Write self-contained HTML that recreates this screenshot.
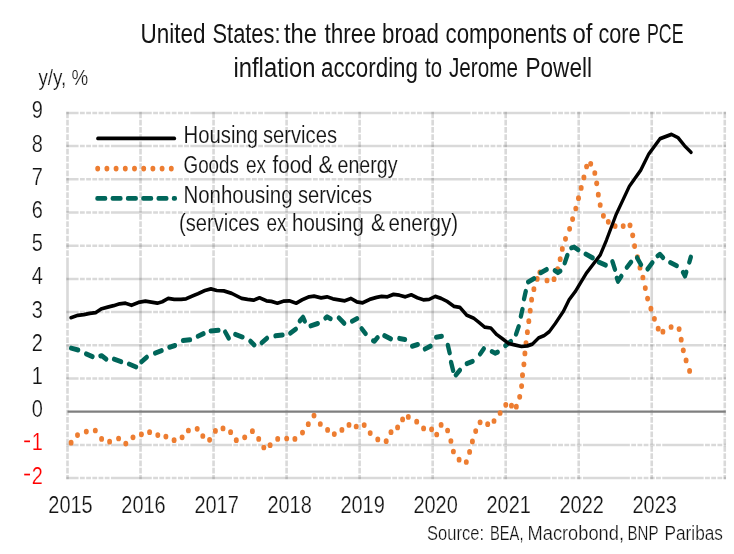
<!DOCTYPE html>
<html><head><meta charset="utf-8"><style>
html,body{margin:0;padding:0;background:#fff;width:734px;height:554px;overflow:hidden}
svg{display:block;font-family:"Liberation Sans",sans-serif}
</style></head><body>
<svg width="734" height="554" viewBox="0 0 734 554">
<text transform="scale(1,1.3)" x="140.5" y="32.92" font-size="21.15" fill="#141414" textLength="65.0" lengthAdjust="spacingAndGlyphs" text-anchor="start">United</text>
<text transform="scale(1,1.3)" x="212.5" y="32.92" font-size="21.15" fill="#141414" textLength="68.0" lengthAdjust="spacingAndGlyphs" text-anchor="start">States:</text>
<text transform="scale(1,1.3)" x="284.0" y="32.92" font-size="21.15" fill="#141414" textLength="33.0" lengthAdjust="spacingAndGlyphs" text-anchor="start">the</text>
<text transform="scale(1,1.3)" x="324.5" y="32.92" font-size="21.15" fill="#141414" textLength="51.5" lengthAdjust="spacingAndGlyphs" text-anchor="start">three</text>
<text transform="scale(1,1.3)" x="382.0" y="32.92" font-size="21.15" fill="#141414" textLength="57.0" lengthAdjust="spacingAndGlyphs" text-anchor="start">broad</text>
<text transform="scale(1,1.3)" x="445.5" y="32.92" font-size="21.15" fill="#141414" textLength="121.5" lengthAdjust="spacingAndGlyphs" text-anchor="start">components</text>
<text transform="scale(1,1.3)" x="572.5" y="32.92" font-size="21.15" fill="#141414" textLength="20.0" lengthAdjust="spacingAndGlyphs" text-anchor="start">of</text>
<text transform="scale(1,1.3)" x="598.5" y="32.92" font-size="21.15" fill="#141414" textLength="42.0" lengthAdjust="spacingAndGlyphs" text-anchor="start">core</text>
<text transform="scale(1,1.3)" x="647.0" y="32.92" font-size="21.15" fill="#141414" textLength="36.5" lengthAdjust="spacingAndGlyphs" text-anchor="start">PCE</text>
<text transform="scale(1,1.3)" x="233.5" y="59.08" font-size="21.15" fill="#141414" textLength="82.0" lengthAdjust="spacingAndGlyphs" text-anchor="start">inflation</text>
<text transform="scale(1,1.3)" x="321.0" y="59.08" font-size="21.15" fill="#141414" textLength="97.0" lengthAdjust="spacingAndGlyphs" text-anchor="start">according</text>
<text transform="scale(1,1.3)" x="425.0" y="59.08" font-size="21.15" fill="#141414" textLength="17.0" lengthAdjust="spacingAndGlyphs" text-anchor="start">to</text>
<text transform="scale(1,1.3)" x="449.0" y="59.08" font-size="21.15" fill="#141414" textLength="69.0" lengthAdjust="spacingAndGlyphs" text-anchor="start">Jerome</text>
<text transform="scale(1,1.3)" x="525.5" y="59.08" font-size="21.15" fill="#141414" textLength="66.5" lengthAdjust="spacingAndGlyphs" text-anchor="start">Powell</text>
<text transform="scale(1,1.15)" x="183.5" y="124.78" font-size="20.87" fill="#141414" stroke="#fff" stroke-width="0.12" textLength="74.5" lengthAdjust="spacingAndGlyphs" text-anchor="start">Housing</text>
<text transform="scale(1,1.15)" x="263.0" y="124.78" font-size="20.87" fill="#141414" stroke="#fff" stroke-width="0.12" textLength="74.0" lengthAdjust="spacingAndGlyphs" text-anchor="start">services</text>
<text transform="scale(1,1.15)" x="183.5" y="150.70" font-size="20.87" fill="#141414" stroke="#fff" stroke-width="0.12" textLength="55.5" lengthAdjust="spacingAndGlyphs" text-anchor="start">Goods</text>
<text transform="scale(1,1.15)" x="246.0" y="150.70" font-size="20.87" fill="#141414" stroke="#fff" stroke-width="0.12" textLength="20.0" lengthAdjust="spacingAndGlyphs" text-anchor="start">ex</text>
<text transform="scale(1,1.15)" x="272.5" y="150.70" font-size="20.87" fill="#141414" stroke="#fff" stroke-width="0.12" textLength="40.0" lengthAdjust="spacingAndGlyphs" text-anchor="start">food</text>
<text transform="scale(1,1.15)" x="318.5" y="150.70" font-size="20.87" fill="#141414" stroke="#fff" stroke-width="0.12" textLength="15.0" lengthAdjust="spacingAndGlyphs" text-anchor="start">&amp;</text>
<text transform="scale(1,1.15)" x="337.5" y="150.70" font-size="20.87" fill="#141414" stroke="#fff" stroke-width="0.12" textLength="60.0" lengthAdjust="spacingAndGlyphs" text-anchor="start">energy</text>
<text transform="scale(1,1.15)" x="183.5" y="176.70" font-size="20.87" fill="#141414" stroke="#fff" stroke-width="0.12" textLength="109.0" lengthAdjust="spacingAndGlyphs" text-anchor="start">Nonhousing</text>
<text transform="scale(1,1.15)" x="298.0" y="176.70" font-size="20.87" fill="#141414" stroke="#fff" stroke-width="0.12" textLength="74.0" lengthAdjust="spacingAndGlyphs" text-anchor="start">services</text>
<text transform="scale(1,1.15)" x="179.0" y="201.04" font-size="20.87" fill="#141414" stroke="#fff" stroke-width="0.12" textLength="80.5" lengthAdjust="spacingAndGlyphs" text-anchor="start">(services</text>
<text transform="scale(1,1.15)" x="266.5" y="201.04" font-size="20.87" fill="#141414" stroke="#fff" stroke-width="0.12" textLength="20.0" lengthAdjust="spacingAndGlyphs" text-anchor="start">ex</text>
<text transform="scale(1,1.15)" x="292.0" y="201.04" font-size="20.87" fill="#141414" stroke="#fff" stroke-width="0.12" textLength="72.0" lengthAdjust="spacingAndGlyphs" text-anchor="start">housing</text>
<text transform="scale(1,1.15)" x="371.0" y="201.04" font-size="20.87" fill="#141414" stroke="#fff" stroke-width="0.12" textLength="14.0" lengthAdjust="spacingAndGlyphs" text-anchor="start">&amp;</text>
<text transform="scale(1,1.15)" x="388.5" y="201.04" font-size="20.87" fill="#141414" stroke="#fff" stroke-width="0.12" textLength="69.5" lengthAdjust="spacingAndGlyphs" text-anchor="start">energy)</text>
<text transform="scale(1,1.2)" x="427.0" y="450.00" font-size="16.25" fill="#141414" stroke="#fff" stroke-width="0.2" textLength="57.0" lengthAdjust="spacingAndGlyphs" text-anchor="start">Source:</text>
<text transform="scale(1,1.2)" x="490.0" y="450.00" font-size="16.25" fill="#141414" stroke="#fff" stroke-width="0.2" textLength="33.5" lengthAdjust="spacingAndGlyphs" text-anchor="start">BEA,</text>
<text transform="scale(1,1.2)" x="527.5" y="450.00" font-size="16.25" fill="#141414" stroke="#fff" stroke-width="0.2" textLength="96.5" lengthAdjust="spacingAndGlyphs" text-anchor="start">Macrobond,</text>
<text transform="scale(1,1.2)" x="627.5" y="450.00" font-size="16.25" fill="#141414" stroke="#fff" stroke-width="0.2" textLength="31.0" lengthAdjust="spacingAndGlyphs" text-anchor="start">BNP</text>
<text transform="scale(1,1.2)" x="664.5" y="450.00" font-size="16.25" fill="#141414" stroke="#fff" stroke-width="0.2" textLength="58.5" lengthAdjust="spacingAndGlyphs" text-anchor="start">Paribas</text>
<text transform="scale(1,1.15)" x="38.4" y="73.91" font-size="18.78" fill="#141414" stroke="#fff" stroke-width="0.2" textLength="49.699999999999996" lengthAdjust="spacing" text-anchor="start">y/y, %</text>
<text transform="scale(1,1.15)" x="42.8" y="420.61" font-size="20.87" fill="#ff0000" stroke="#fff" stroke-width="0.2" textLength="11.1" lengthAdjust="spacingAndGlyphs" text-anchor="end">2</text>
<rect x="24.2" y="473.70" width="5.8" height="1.7" fill="#ff0000"/>
<text transform="scale(1,1.15)" x="42.8" y="391.74" font-size="20.87" fill="#ff0000" stroke="#fff" stroke-width="0.2" textLength="11.1" lengthAdjust="spacingAndGlyphs" text-anchor="end">1</text>
<rect x="24.2" y="440.50" width="5.8" height="1.7" fill="#ff0000"/>
<text transform="scale(1,1.15)" x="42.8" y="362.87" font-size="20.87" fill="#141414" stroke="#fff" stroke-width="0.2" textLength="11.1" lengthAdjust="spacingAndGlyphs" text-anchor="end">0</text>
<text transform="scale(1,1.15)" x="42.8" y="334.00" font-size="20.87" fill="#141414" stroke="#fff" stroke-width="0.2" textLength="11.1" lengthAdjust="spacingAndGlyphs" text-anchor="end">1</text>
<text transform="scale(1,1.15)" x="42.8" y="305.13" font-size="20.87" fill="#141414" stroke="#fff" stroke-width="0.2" textLength="11.1" lengthAdjust="spacingAndGlyphs" text-anchor="end">2</text>
<text transform="scale(1,1.15)" x="42.8" y="276.26" font-size="20.87" fill="#141414" stroke="#fff" stroke-width="0.2" textLength="11.1" lengthAdjust="spacingAndGlyphs" text-anchor="end">3</text>
<text transform="scale(1,1.15)" x="42.8" y="247.39" font-size="20.87" fill="#141414" stroke="#fff" stroke-width="0.2" textLength="11.1" lengthAdjust="spacingAndGlyphs" text-anchor="end">4</text>
<text transform="scale(1,1.15)" x="42.8" y="218.52" font-size="20.87" fill="#141414" stroke="#fff" stroke-width="0.2" textLength="11.1" lengthAdjust="spacingAndGlyphs" text-anchor="end">5</text>
<text transform="scale(1,1.15)" x="42.8" y="189.65" font-size="20.87" fill="#141414" stroke="#fff" stroke-width="0.2" textLength="11.1" lengthAdjust="spacingAndGlyphs" text-anchor="end">6</text>
<text transform="scale(1,1.15)" x="42.8" y="160.78" font-size="20.87" fill="#141414" stroke="#fff" stroke-width="0.2" textLength="11.1" lengthAdjust="spacingAndGlyphs" text-anchor="end">7</text>
<text transform="scale(1,1.15)" x="42.8" y="131.91" font-size="20.87" fill="#141414" stroke="#fff" stroke-width="0.2" textLength="11.1" lengthAdjust="spacingAndGlyphs" text-anchor="end">8</text>
<text transform="scale(1,1.15)" x="42.8" y="103.04" font-size="20.87" fill="#141414" stroke="#fff" stroke-width="0.2" textLength="11.1" lengthAdjust="spacingAndGlyphs" text-anchor="end">9</text>
<text transform="scale(1,1.15)" x="48.3" y="446.52" font-size="20.87" fill="#141414" stroke="#fff" stroke-width="0.2" textLength="44.4" lengthAdjust="spacingAndGlyphs" text-anchor="start">2015</text>
<text transform="scale(1,1.15)" x="121.3" y="446.52" font-size="20.87" fill="#141414" stroke="#fff" stroke-width="0.2" textLength="44.4" lengthAdjust="spacingAndGlyphs" text-anchor="start">2016</text>
<text transform="scale(1,1.15)" x="194.4" y="446.52" font-size="20.87" fill="#141414" stroke="#fff" stroke-width="0.2" textLength="44.4" lengthAdjust="spacingAndGlyphs" text-anchor="start">2017</text>
<text transform="scale(1,1.15)" x="267.4" y="446.52" font-size="20.87" fill="#141414" stroke="#fff" stroke-width="0.2" textLength="44.4" lengthAdjust="spacingAndGlyphs" text-anchor="start">2018</text>
<text transform="scale(1,1.15)" x="340.4" y="446.52" font-size="20.87" fill="#141414" stroke="#fff" stroke-width="0.2" textLength="44.4" lengthAdjust="spacingAndGlyphs" text-anchor="start">2019</text>
<text transform="scale(1,1.15)" x="413.4" y="446.52" font-size="20.87" fill="#141414" stroke="#fff" stroke-width="0.2" textLength="44.4" lengthAdjust="spacingAndGlyphs" text-anchor="start">2020</text>
<text transform="scale(1,1.15)" x="486.5" y="446.52" font-size="20.87" fill="#141414" stroke="#fff" stroke-width="0.2" textLength="44.4" lengthAdjust="spacingAndGlyphs" text-anchor="start">2021</text>
<text transform="scale(1,1.15)" x="559.5" y="446.52" font-size="20.87" fill="#141414" stroke="#fff" stroke-width="0.2" textLength="44.4" lengthAdjust="spacingAndGlyphs" text-anchor="start">2022</text>
<text transform="scale(1,1.15)" x="632.5" y="446.52" font-size="20.87" fill="#141414" stroke="#fff" stroke-width="0.2" textLength="44.4" lengthAdjust="spacingAndGlyphs" text-anchor="start">2023</text>
<path d="M66.30 478.10H78.55M79.95 478.10H84.75M86.15 478.10H90.95M92.35 478.10H97.15M98.55 478.10H103.35M104.75 478.10H109.55M110.95 478.10H151.75M153.15 478.10H157.95M159.35 478.10H164.15M165.55 478.10H170.35M171.75 478.10H176.55M177.95 478.10H182.75M184.15 478.10H188.95M190.35 478.10H231.95M233.35 478.10H238.15M239.55 478.10H244.35M245.75 478.10H250.55M251.95 478.10H256.75M258.15 478.10H262.95M264.35 478.10H311.55M312.95 478.10H317.75M319.15 478.10H323.95M325.35 478.10H330.15M331.55 478.10H336.35M337.75 478.10H342.55M343.95 478.10H390.85M392.25 478.10H397.05M398.45 478.10H403.25M404.65 478.10H409.45M410.85 478.10H415.65M417.05 478.10H421.85M423.25 478.10H470.55M471.95 478.10H476.75M478.15 478.10H482.95M484.35 478.10H489.15M490.55 478.10H495.35M496.75 478.10H501.55M502.95 478.10H550.55M551.95 478.10H556.75M558.15 478.10H562.95M564.35 478.10H569.15M570.55 478.10H575.35M576.75 478.10H581.55M582.95 478.10H629.85M631.25 478.10H636.05M637.45 478.10H642.25M643.65 478.10H648.45M649.85 478.10H654.65M656.05 478.10H660.85M662.25 478.10H703.65M705.05 478.10H709.85M711.25 478.10H716.05M717.45 478.10H722.25M723.65 478.10H725.97M66.30 444.90H78.55M79.95 444.90H84.75M86.15 444.90H90.95M92.35 444.90H97.15M98.55 444.90H103.35M104.75 444.90H109.55M110.95 444.90H151.75M153.15 444.90H157.95M159.35 444.90H164.15M165.55 444.90H170.35M171.75 444.90H176.55M177.95 444.90H182.75M184.15 444.90H188.95M190.35 444.90H231.95M233.35 444.90H238.15M239.55 444.90H244.35M245.75 444.90H250.55M251.95 444.90H256.75M258.15 444.90H262.95M264.35 444.90H311.55M312.95 444.90H317.75M319.15 444.90H323.95M325.35 444.90H330.15M331.55 444.90H336.35M337.75 444.90H342.55M343.95 444.90H390.85M392.25 444.90H397.05M398.45 444.90H403.25M404.65 444.90H409.45M410.85 444.90H415.65M417.05 444.90H421.85M423.25 444.90H470.55M471.95 444.90H476.75M478.15 444.90H482.95M484.35 444.90H489.15M490.55 444.90H495.35M496.75 444.90H501.55M502.95 444.90H550.55M551.95 444.90H556.75M558.15 444.90H562.95M564.35 444.90H569.15M570.55 444.90H575.35M576.75 444.90H581.55M582.95 444.90H629.85M631.25 444.90H636.05M637.45 444.90H642.25M643.65 444.90H648.45M649.85 444.90H654.65M656.05 444.90H660.85M662.25 444.90H703.65M705.05 444.90H709.85M711.25 444.90H716.05M717.45 444.90H722.25M723.65 444.90H725.97M66.30 378.50H78.55M79.95 378.50H84.75M86.15 378.50H90.95M92.35 378.50H97.15M98.55 378.50H103.35M104.75 378.50H109.55M110.95 378.50H151.75M153.15 378.50H157.95M159.35 378.50H164.15M165.55 378.50H170.35M171.75 378.50H176.55M177.95 378.50H182.75M184.15 378.50H188.95M190.35 378.50H231.95M233.35 378.50H238.15M239.55 378.50H244.35M245.75 378.50H250.55M251.95 378.50H256.75M258.15 378.50H262.95M264.35 378.50H311.55M312.95 378.50H317.75M319.15 378.50H323.95M325.35 378.50H330.15M331.55 378.50H336.35M337.75 378.50H342.55M343.95 378.50H390.85M392.25 378.50H397.05M398.45 378.50H403.25M404.65 378.50H409.45M410.85 378.50H415.65M417.05 378.50H421.85M423.25 378.50H470.55M471.95 378.50H476.75M478.15 378.50H482.95M484.35 378.50H489.15M490.55 378.50H495.35M496.75 378.50H501.55M502.95 378.50H550.55M551.95 378.50H556.75M558.15 378.50H562.95M564.35 378.50H569.15M570.55 378.50H575.35M576.75 378.50H581.55M582.95 378.50H629.85M631.25 378.50H636.05M637.45 378.50H642.25M643.65 378.50H648.45M649.85 378.50H654.65M656.05 378.50H660.85M662.25 378.50H703.65M705.05 378.50H709.85M711.25 378.50H716.05M717.45 378.50H722.25M723.65 378.50H725.97M66.30 345.30H78.55M79.95 345.30H84.75M86.15 345.30H90.95M92.35 345.30H97.15M98.55 345.30H103.35M104.75 345.30H109.55M110.95 345.30H151.75M153.15 345.30H157.95M159.35 345.30H164.15M165.55 345.30H170.35M171.75 345.30H176.55M177.95 345.30H182.75M184.15 345.30H188.95M190.35 345.30H231.95M233.35 345.30H238.15M239.55 345.30H244.35M245.75 345.30H250.55M251.95 345.30H256.75M258.15 345.30H262.95M264.35 345.30H311.55M312.95 345.30H317.75M319.15 345.30H323.95M325.35 345.30H330.15M331.55 345.30H336.35M337.75 345.30H342.55M343.95 345.30H390.85M392.25 345.30H397.05M398.45 345.30H403.25M404.65 345.30H409.45M410.85 345.30H415.65M417.05 345.30H421.85M423.25 345.30H470.55M471.95 345.30H476.75M478.15 345.30H482.95M484.35 345.30H489.15M490.55 345.30H495.35M496.75 345.30H501.55M502.95 345.30H550.55M551.95 345.30H556.75M558.15 345.30H562.95M564.35 345.30H569.15M570.55 345.30H575.35M576.75 345.30H581.55M582.95 345.30H629.85M631.25 345.30H636.05M637.45 345.30H642.25M643.65 345.30H648.45M649.85 345.30H654.65M656.05 345.30H660.85M662.25 345.30H703.65M705.05 345.30H709.85M711.25 345.30H716.05M717.45 345.30H722.25M723.65 345.30H725.97M66.30 312.10H78.55M79.95 312.10H84.75M86.15 312.10H90.95M92.35 312.10H97.15M98.55 312.10H103.35M104.75 312.10H109.55M110.95 312.10H151.75M153.15 312.10H157.95M159.35 312.10H164.15M165.55 312.10H170.35M171.75 312.10H176.55M177.95 312.10H182.75M184.15 312.10H188.95M190.35 312.10H231.95M233.35 312.10H238.15M239.55 312.10H244.35M245.75 312.10H250.55M251.95 312.10H256.75M258.15 312.10H262.95M264.35 312.10H311.55M312.95 312.10H317.75M319.15 312.10H323.95M325.35 312.10H330.15M331.55 312.10H336.35M337.75 312.10H342.55M343.95 312.10H390.85M392.25 312.10H397.05M398.45 312.10H403.25M404.65 312.10H409.45M410.85 312.10H415.65M417.05 312.10H421.85M423.25 312.10H470.55M471.95 312.10H476.75M478.15 312.10H482.95M484.35 312.10H489.15M490.55 312.10H495.35M496.75 312.10H501.55M502.95 312.10H550.55M551.95 312.10H556.75M558.15 312.10H562.95M564.35 312.10H569.15M570.55 312.10H575.35M576.75 312.10H581.55M582.95 312.10H629.85M631.25 312.10H636.05M637.45 312.10H642.25M643.65 312.10H648.45M649.85 312.10H654.65M656.05 312.10H660.85M662.25 312.10H703.65M705.05 312.10H709.85M711.25 312.10H716.05M717.45 312.10H722.25M723.65 312.10H725.97M66.30 278.90H78.55M79.95 278.90H84.75M86.15 278.90H90.95M92.35 278.90H97.15M98.55 278.90H103.35M104.75 278.90H109.55M110.95 278.90H151.75M153.15 278.90H157.95M159.35 278.90H164.15M165.55 278.90H170.35M171.75 278.90H176.55M177.95 278.90H182.75M184.15 278.90H188.95M190.35 278.90H231.95M233.35 278.90H238.15M239.55 278.90H244.35M245.75 278.90H250.55M251.95 278.90H256.75M258.15 278.90H262.95M264.35 278.90H311.55M312.95 278.90H317.75M319.15 278.90H323.95M325.35 278.90H330.15M331.55 278.90H336.35M337.75 278.90H342.55M343.95 278.90H390.85M392.25 278.90H397.05M398.45 278.90H403.25M404.65 278.90H409.45M410.85 278.90H415.65M417.05 278.90H421.85M423.25 278.90H470.55M471.95 278.90H476.75M478.15 278.90H482.95M484.35 278.90H489.15M490.55 278.90H495.35M496.75 278.90H501.55M502.95 278.90H550.55M551.95 278.90H556.75M558.15 278.90H562.95M564.35 278.90H569.15M570.55 278.90H575.35M576.75 278.90H581.55M582.95 278.90H629.85M631.25 278.90H636.05M637.45 278.90H642.25M643.65 278.90H648.45M649.85 278.90H654.65M656.05 278.90H660.85M662.25 278.90H703.65M705.05 278.90H709.85M711.25 278.90H716.05M717.45 278.90H722.25M723.65 278.90H725.97M66.30 245.70H78.55M79.95 245.70H84.75M86.15 245.70H90.95M92.35 245.70H97.15M98.55 245.70H103.35M104.75 245.70H109.55M110.95 245.70H151.75M153.15 245.70H157.95M159.35 245.70H164.15M165.55 245.70H170.35M171.75 245.70H176.55M177.95 245.70H182.75M184.15 245.70H188.95M190.35 245.70H231.95M233.35 245.70H238.15M239.55 245.70H244.35M245.75 245.70H250.55M251.95 245.70H256.75M258.15 245.70H262.95M264.35 245.70H311.55M312.95 245.70H317.75M319.15 245.70H323.95M325.35 245.70H330.15M331.55 245.70H336.35M337.75 245.70H342.55M343.95 245.70H390.85M392.25 245.70H397.05M398.45 245.70H403.25M404.65 245.70H409.45M410.85 245.70H415.65M417.05 245.70H421.85M423.25 245.70H470.55M471.95 245.70H476.75M478.15 245.70H482.95M484.35 245.70H489.15M490.55 245.70H495.35M496.75 245.70H501.55M502.95 245.70H550.55M551.95 245.70H556.75M558.15 245.70H562.95M564.35 245.70H569.15M570.55 245.70H575.35M576.75 245.70H581.55M582.95 245.70H629.85M631.25 245.70H636.05M637.45 245.70H642.25M643.65 245.70H648.45M649.85 245.70H654.65M656.05 245.70H660.85M662.25 245.70H703.65M705.05 245.70H709.85M711.25 245.70H716.05M717.45 245.70H722.25M723.65 245.70H725.97M66.30 212.50H78.55M79.95 212.50H84.75M86.15 212.50H90.95M92.35 212.50H97.15M98.55 212.50H103.35M104.75 212.50H109.55M110.95 212.50H151.75M153.15 212.50H157.95M159.35 212.50H164.15M165.55 212.50H170.35M171.75 212.50H176.55M177.95 212.50H182.75M184.15 212.50H188.95M190.35 212.50H231.95M233.35 212.50H238.15M239.55 212.50H244.35M245.75 212.50H250.55M251.95 212.50H256.75M258.15 212.50H262.95M264.35 212.50H311.55M312.95 212.50H317.75M319.15 212.50H323.95M325.35 212.50H330.15M331.55 212.50H336.35M337.75 212.50H342.55M343.95 212.50H390.85M392.25 212.50H397.05M398.45 212.50H403.25M404.65 212.50H409.45M410.85 212.50H415.65M417.05 212.50H421.85M423.25 212.50H470.55M471.95 212.50H476.75M478.15 212.50H482.95M484.35 212.50H489.15M490.55 212.50H495.35M496.75 212.50H501.55M502.95 212.50H550.55M551.95 212.50H556.75M558.15 212.50H562.95M564.35 212.50H569.15M570.55 212.50H575.35M576.75 212.50H581.55M582.95 212.50H629.85M631.25 212.50H636.05M637.45 212.50H642.25M643.65 212.50H648.45M649.85 212.50H654.65M656.05 212.50H660.85M662.25 212.50H703.65M705.05 212.50H709.85M711.25 212.50H716.05M717.45 212.50H722.25M723.65 212.50H725.97M66.30 179.30H78.55M79.95 179.30H84.75M86.15 179.30H90.95M92.35 179.30H97.15M98.55 179.30H103.35M104.75 179.30H109.55M110.95 179.30H151.75M153.15 179.30H157.95M159.35 179.30H164.15M165.55 179.30H170.35M171.75 179.30H176.55M177.95 179.30H182.75M184.15 179.30H188.95M190.35 179.30H231.95M233.35 179.30H238.15M239.55 179.30H244.35M245.75 179.30H250.55M251.95 179.30H256.75M258.15 179.30H262.95M264.35 179.30H311.55M312.95 179.30H317.75M319.15 179.30H323.95M325.35 179.30H330.15M331.55 179.30H336.35M337.75 179.30H342.55M343.95 179.30H390.85M392.25 179.30H397.05M398.45 179.30H403.25M404.65 179.30H409.45M410.85 179.30H415.65M417.05 179.30H421.85M423.25 179.30H470.55M471.95 179.30H476.75M478.15 179.30H482.95M484.35 179.30H489.15M490.55 179.30H495.35M496.75 179.30H501.55M502.95 179.30H550.55M551.95 179.30H556.75M558.15 179.30H562.95M564.35 179.30H569.15M570.55 179.30H575.35M576.75 179.30H581.55M582.95 179.30H629.85M631.25 179.30H636.05M637.45 179.30H642.25M643.65 179.30H648.45M649.85 179.30H654.65M656.05 179.30H660.85M662.25 179.30H703.65M705.05 179.30H709.85M711.25 179.30H716.05M717.45 179.30H722.25M723.65 179.30H725.97M66.30 146.10H78.55M79.95 146.10H84.75M86.15 146.10H90.95M92.35 146.10H97.15M98.55 146.10H103.35M104.75 146.10H109.55M110.95 146.10H151.75M153.15 146.10H157.95M159.35 146.10H164.15M165.55 146.10H170.35M171.75 146.10H176.55M177.95 146.10H182.75M184.15 146.10H188.95M190.35 146.10H231.95M233.35 146.10H238.15M239.55 146.10H244.35M245.75 146.10H250.55M251.95 146.10H256.75M258.15 146.10H262.95M264.35 146.10H311.55M312.95 146.10H317.75M319.15 146.10H323.95M325.35 146.10H330.15M331.55 146.10H336.35M337.75 146.10H342.55M343.95 146.10H390.85M392.25 146.10H397.05M398.45 146.10H403.25M404.65 146.10H409.45M410.85 146.10H415.65M417.05 146.10H421.85M423.25 146.10H470.55M471.95 146.10H476.75M478.15 146.10H482.95M484.35 146.10H489.15M490.55 146.10H495.35M496.75 146.10H501.55M502.95 146.10H550.55M551.95 146.10H556.75M558.15 146.10H562.95M564.35 146.10H569.15M570.55 146.10H575.35M576.75 146.10H581.55M582.95 146.10H629.85M631.25 146.10H636.05M637.45 146.10H642.25M643.65 146.10H648.45M649.85 146.10H654.65M656.05 146.10H660.85M662.25 146.10H703.65M705.05 146.10H709.85M711.25 146.10H716.05M717.45 146.10H722.25M723.65 146.10H725.97M66.30 112.90H78.55M79.95 112.90H84.75M86.15 112.90H90.95M92.35 112.90H97.15M98.55 112.90H103.35M104.75 112.90H109.55M110.95 112.90H151.75M153.15 112.90H157.95M159.35 112.90H164.15M165.55 112.90H170.35M171.75 112.90H176.55M177.95 112.90H182.75M184.15 112.90H188.95M190.35 112.90H231.95M233.35 112.90H238.15M239.55 112.90H244.35M245.75 112.90H250.55M251.95 112.90H256.75M258.15 112.90H262.95M264.35 112.90H311.55M312.95 112.90H317.75M319.15 112.90H323.95M325.35 112.90H330.15M331.55 112.90H336.35M337.75 112.90H342.55M343.95 112.90H390.85M392.25 112.90H397.05M398.45 112.90H403.25M404.65 112.90H409.45M410.85 112.90H415.65M417.05 112.90H421.85M423.25 112.90H470.55M471.95 112.90H476.75M478.15 112.90H482.95M484.35 112.90H489.15M490.55 112.90H495.35M496.75 112.90H501.55M502.95 112.90H550.55M551.95 112.90H556.75M558.15 112.90H562.95M564.35 112.90H569.15M570.55 112.90H575.35M576.75 112.90H581.55M582.95 112.90H629.85M631.25 112.90H636.05M637.45 112.90H642.25M643.65 112.90H648.45M649.85 112.90H654.65M656.05 112.90H660.85M662.25 112.90H703.65M705.05 112.90H709.85M711.25 112.90H716.05M717.45 112.90H722.25M723.65 112.90H725.97" stroke="#d9d9d9" stroke-width="2.5" fill="none" style="mix-blend-mode:multiply"/>
<path d="M67.50 111.70V118.25M67.50 119.85V125.50M67.50 127.10V132.75M67.50 134.35V140.00M67.50 141.60V147.25M67.50 148.85V154.50M67.50 156.10V161.75M67.50 163.35V169.00M67.50 170.60V176.25M67.50 177.85V183.50M67.50 185.10V190.75M67.50 192.35V198.00M67.50 199.60V205.25M67.50 206.85V212.50M67.50 214.10V219.75M67.50 221.35V227.00M67.50 228.60V234.25M67.50 235.85V241.50M67.50 243.10V248.75M67.50 250.35V256.00M67.50 257.60V321.25M67.50 322.85V328.50M67.50 330.10V335.75M67.50 337.35V343.00M67.50 344.60V350.25M67.50 351.85V357.50M67.50 359.10V364.75M67.50 366.35V372.00M67.50 373.60V379.25M67.50 380.85V386.50M67.50 388.10V393.75M67.50 395.35V401.00M67.50 402.60V408.25M67.50 409.85V415.50M67.50 417.10V422.75M67.50 424.35V430.00M67.50 431.60V437.25M67.50 438.85V444.50M67.50 446.10V451.75M67.50 453.35V459.00M67.50 460.60V466.25M67.50 467.85V473.50M67.50 475.10V479.30M140.53 111.70V118.25M140.53 119.85V125.50M140.53 127.10V132.75M140.53 134.35V140.00M140.53 141.60V147.25M140.53 148.85V154.50M140.53 156.10V161.75M140.53 163.35V169.00M140.53 170.60V176.25M140.53 177.85V183.50M140.53 185.10V190.75M140.53 192.35V198.00M140.53 199.60V205.25M140.53 206.85V212.50M140.53 214.10V219.75M140.53 221.35V227.00M140.53 228.60V234.25M140.53 235.85V241.50M140.53 243.10V248.75M140.53 250.35V256.00M140.53 257.60V321.25M140.53 322.85V328.50M140.53 330.10V335.75M140.53 337.35V343.00M140.53 344.60V350.25M140.53 351.85V357.50M140.53 359.10V364.75M140.53 366.35V372.00M140.53 373.60V379.25M140.53 380.85V386.50M140.53 388.10V393.75M140.53 395.35V401.00M140.53 402.60V408.25M140.53 409.85V415.50M140.53 417.10V422.75M140.53 424.35V430.00M140.53 431.60V437.25M140.53 438.85V444.50M140.53 446.10V451.75M140.53 453.35V459.00M140.53 460.60V466.25M140.53 467.85V473.50M140.53 475.10V479.30M213.56 111.70V118.25M213.56 119.85V125.50M213.56 127.10V132.75M213.56 134.35V140.00M213.56 141.60V147.25M213.56 148.85V154.50M213.56 156.10V161.75M213.56 163.35V169.00M213.56 170.60V176.25M213.56 177.85V183.50M213.56 185.10V190.75M213.56 192.35V198.00M213.56 199.60V205.25M213.56 206.85V212.50M213.56 214.10V219.75M213.56 221.35V227.00M213.56 228.60V234.25M213.56 235.85V241.50M213.56 243.10V248.75M213.56 250.35V256.00M213.56 257.60V321.25M213.56 322.85V328.50M213.56 330.10V335.75M213.56 337.35V343.00M213.56 344.60V350.25M213.56 351.85V357.50M213.56 359.10V364.75M213.56 366.35V372.00M213.56 373.60V379.25M213.56 380.85V386.50M213.56 388.10V393.75M213.56 395.35V401.00M213.56 402.60V408.25M213.56 409.85V415.50M213.56 417.10V422.75M213.56 424.35V430.00M213.56 431.60V437.25M213.56 438.85V444.50M213.56 446.10V451.75M213.56 453.35V459.00M213.56 460.60V466.25M213.56 467.85V473.50M213.56 475.10V479.30M286.59 111.70V118.25M286.59 119.85V125.50M286.59 127.10V132.75M286.59 134.35V140.00M286.59 141.60V147.25M286.59 148.85V154.50M286.59 156.10V161.75M286.59 163.35V169.00M286.59 170.60V176.25M286.59 177.85V183.50M286.59 185.10V190.75M286.59 192.35V198.00M286.59 199.60V205.25M286.59 206.85V212.50M286.59 214.10V219.75M286.59 221.35V227.00M286.59 228.60V234.25M286.59 235.85V241.50M286.59 243.10V248.75M286.59 250.35V256.00M286.59 257.60V321.25M286.59 322.85V328.50M286.59 330.10V335.75M286.59 337.35V343.00M286.59 344.60V350.25M286.59 351.85V357.50M286.59 359.10V364.75M286.59 366.35V372.00M286.59 373.60V379.25M286.59 380.85V386.50M286.59 388.10V393.75M286.59 395.35V401.00M286.59 402.60V408.25M286.59 409.85V415.50M286.59 417.10V422.75M286.59 424.35V430.00M286.59 431.60V437.25M286.59 438.85V444.50M286.59 446.10V451.75M286.59 453.35V459.00M286.59 460.60V466.25M286.59 467.85V473.50M286.59 475.10V479.30M359.62 111.70V118.25M359.62 119.85V125.50M359.62 127.10V132.75M359.62 134.35V140.00M359.62 141.60V147.25M359.62 148.85V154.50M359.62 156.10V161.75M359.62 163.35V169.00M359.62 170.60V176.25M359.62 177.85V183.50M359.62 185.10V190.75M359.62 192.35V198.00M359.62 199.60V205.25M359.62 206.85V212.50M359.62 214.10V219.75M359.62 221.35V227.00M359.62 228.60V234.25M359.62 235.85V241.50M359.62 243.10V248.75M359.62 250.35V256.00M359.62 257.60V321.25M359.62 322.85V328.50M359.62 330.10V335.75M359.62 337.35V343.00M359.62 344.60V350.25M359.62 351.85V357.50M359.62 359.10V364.75M359.62 366.35V372.00M359.62 373.60V379.25M359.62 380.85V386.50M359.62 388.10V393.75M359.62 395.35V401.00M359.62 402.60V408.25M359.62 409.85V415.50M359.62 417.10V422.75M359.62 424.35V430.00M359.62 431.60V437.25M359.62 438.85V444.50M359.62 446.10V451.75M359.62 453.35V459.00M359.62 460.60V466.25M359.62 467.85V473.50M359.62 475.10V479.30M432.65 111.70V118.25M432.65 119.85V125.50M432.65 127.10V132.75M432.65 134.35V140.00M432.65 141.60V147.25M432.65 148.85V154.50M432.65 156.10V161.75M432.65 163.35V169.00M432.65 170.60V176.25M432.65 177.85V183.50M432.65 185.10V190.75M432.65 192.35V198.00M432.65 199.60V205.25M432.65 206.85V212.50M432.65 214.10V219.75M432.65 221.35V227.00M432.65 228.60V234.25M432.65 235.85V241.50M432.65 243.10V248.75M432.65 250.35V256.00M432.65 257.60V321.25M432.65 322.85V328.50M432.65 330.10V335.75M432.65 337.35V343.00M432.65 344.60V350.25M432.65 351.85V357.50M432.65 359.10V364.75M432.65 366.35V372.00M432.65 373.60V379.25M432.65 380.85V386.50M432.65 388.10V393.75M432.65 395.35V401.00M432.65 402.60V408.25M432.65 409.85V415.50M432.65 417.10V422.75M432.65 424.35V430.00M432.65 431.60V437.25M432.65 438.85V444.50M432.65 446.10V451.75M432.65 453.35V459.00M432.65 460.60V466.25M432.65 467.85V473.50M432.65 475.10V479.30M505.68 111.70V118.25M505.68 119.85V125.50M505.68 127.10V132.75M505.68 134.35V140.00M505.68 141.60V147.25M505.68 148.85V154.50M505.68 156.10V161.75M505.68 163.35V169.00M505.68 170.60V176.25M505.68 177.85V183.50M505.68 185.10V190.75M505.68 192.35V198.00M505.68 199.60V205.25M505.68 206.85V212.50M505.68 214.10V219.75M505.68 221.35V227.00M505.68 228.60V234.25M505.68 235.85V241.50M505.68 243.10V248.75M505.68 250.35V256.00M505.68 257.60V321.25M505.68 322.85V328.50M505.68 330.10V335.75M505.68 337.35V343.00M505.68 344.60V350.25M505.68 351.85V357.50M505.68 359.10V364.75M505.68 366.35V372.00M505.68 373.60V379.25M505.68 380.85V386.50M505.68 388.10V393.75M505.68 395.35V401.00M505.68 402.60V408.25M505.68 409.85V415.50M505.68 417.10V422.75M505.68 424.35V430.00M505.68 431.60V437.25M505.68 438.85V444.50M505.68 446.10V451.75M505.68 453.35V459.00M505.68 460.60V466.25M505.68 467.85V473.50M505.68 475.10V479.30M578.71 111.70V118.25M578.71 119.85V125.50M578.71 127.10V132.75M578.71 134.35V140.00M578.71 141.60V147.25M578.71 148.85V154.50M578.71 156.10V161.75M578.71 163.35V169.00M578.71 170.60V176.25M578.71 177.85V183.50M578.71 185.10V190.75M578.71 192.35V198.00M578.71 199.60V205.25M578.71 206.85V212.50M578.71 214.10V219.75M578.71 221.35V227.00M578.71 228.60V234.25M578.71 235.85V241.50M578.71 243.10V248.75M578.71 250.35V256.00M578.71 257.60V321.25M578.71 322.85V328.50M578.71 330.10V335.75M578.71 337.35V343.00M578.71 344.60V350.25M578.71 351.85V357.50M578.71 359.10V364.75M578.71 366.35V372.00M578.71 373.60V379.25M578.71 380.85V386.50M578.71 388.10V393.75M578.71 395.35V401.00M578.71 402.60V408.25M578.71 409.85V415.50M578.71 417.10V422.75M578.71 424.35V430.00M578.71 431.60V437.25M578.71 438.85V444.50M578.71 446.10V451.75M578.71 453.35V459.00M578.71 460.60V466.25M578.71 467.85V473.50M578.71 475.10V479.30M651.74 111.70V118.25M651.74 119.85V125.50M651.74 127.10V132.75M651.74 134.35V140.00M651.74 141.60V147.25M651.74 148.85V154.50M651.74 156.10V161.75M651.74 163.35V169.00M651.74 170.60V176.25M651.74 177.85V183.50M651.74 185.10V190.75M651.74 192.35V198.00M651.74 199.60V205.25M651.74 206.85V212.50M651.74 214.10V219.75M651.74 221.35V227.00M651.74 228.60V234.25M651.74 235.85V241.50M651.74 243.10V248.75M651.74 250.35V256.00M651.74 257.60V321.25M651.74 322.85V328.50M651.74 330.10V335.75M651.74 337.35V343.00M651.74 344.60V350.25M651.74 351.85V357.50M651.74 359.10V364.75M651.74 366.35V372.00M651.74 373.60V379.25M651.74 380.85V386.50M651.74 388.10V393.75M651.74 395.35V401.00M651.74 402.60V408.25M651.74 409.85V415.50M651.74 417.10V422.75M651.74 424.35V430.00M651.74 431.60V437.25M651.74 438.85V444.50M651.74 446.10V451.75M651.74 453.35V459.00M651.74 460.60V466.25M651.74 467.85V473.50M651.74 475.10V479.30M724.77 111.70V118.25M724.77 119.85V125.50M724.77 127.10V132.75M724.77 134.35V140.00M724.77 141.60V147.25M724.77 148.85V154.50M724.77 156.10V161.75M724.77 163.35V169.00M724.77 170.60V176.25M724.77 177.85V183.50M724.77 185.10V190.75M724.77 192.35V198.00M724.77 199.60V205.25M724.77 206.85V212.50M724.77 214.10V219.75M724.77 221.35V227.00M724.77 228.60V234.25M724.77 235.85V241.50M724.77 243.10V248.75M724.77 250.35V256.00M724.77 257.60V321.25M724.77 322.85V328.50M724.77 330.10V335.75M724.77 337.35V343.00M724.77 344.60V350.25M724.77 351.85V357.50M724.77 359.10V364.75M724.77 366.35V372.00M724.77 373.60V379.25M724.77 380.85V386.50M724.77 388.10V393.75M724.77 395.35V401.00M724.77 402.60V408.25M724.77 409.85V415.50M724.77 417.10V422.75M724.77 424.35V430.00M724.77 431.60V437.25M724.77 438.85V444.50M724.77 446.10V451.75M724.77 453.35V459.00M724.77 460.60V466.25M724.77 467.85V473.50M724.77 475.10V479.30" stroke="#d9d9d9" stroke-width="2.6" fill="none" style="mix-blend-mode:multiply"/>
<line x1="67.5" y1="411.7" x2="725.8" y2="411.7" stroke="#7f7f7f" stroke-width="2.2"/>
<g transform="scale(1,1.17)" fill="none" stroke-linejoin="round">
<g fill="#ed7d31" stroke="none"><circle cx="71.1" cy="378.38" r="2.45"/><circle cx="77.5" cy="371.88" r="2.45"/><circle cx="86.3" cy="368.89" r="2.45"/><circle cx="95.3" cy="367.95" r="2.45"/><circle cx="101.6" cy="375.13" r="2.45"/><circle cx="109.6" cy="377.52" r="2.45"/><circle cx="118.6" cy="374.79" r="2.45"/><circle cx="125.8" cy="379.15" r="2.45"/><circle cx="133.0" cy="373.76" r="2.45"/><circle cx="141.4" cy="371.20" r="2.45"/><circle cx="149.6" cy="369.40" r="2.45"/><circle cx="157.8" cy="371.88" r="2.45"/><circle cx="165.9" cy="373.16" r="2.45"/><circle cx="174.1" cy="376.24" r="2.45"/><circle cx="182.1" cy="373.76" r="2.45"/><circle cx="188.4" cy="367.95" r="2.45"/><circle cx="197.2" cy="366.50" r="2.45"/><circle cx="202.8" cy="372.65" r="2.45"/><circle cx="209.6" cy="375.90" r="2.45"/><circle cx="215.4" cy="368.29" r="2.45"/><circle cx="223.0" cy="366.15" r="2.45"/><circle cx="230.6" cy="369.40" r="2.45"/><circle cx="236.3" cy="376.24" r="2.45"/><circle cx="244.7" cy="373.76" r="2.45"/><circle cx="252.4" cy="368.55" r="2.45"/><circle cx="258.7" cy="375.13" r="2.45"/><circle cx="263.8" cy="382.48" r="2.45"/><circle cx="270.1" cy="380.51" r="2.45"/><circle cx="277.7" cy="375.13" r="2.45"/><circle cx="286.7" cy="374.79" r="2.45"/><circle cx="294.9" cy="375.13" r="2.45"/><circle cx="302.5" cy="369.74" r="2.45"/><circle cx="308.3" cy="362.56" r="2.45"/><circle cx="314.0" cy="355.21" r="2.45"/><circle cx="320.3" cy="362.39" r="2.45"/><circle cx="327.6" cy="367.44" r="2.45"/><circle cx="334.3" cy="371.03" r="2.45"/><circle cx="341.9" cy="367.44" r="2.45"/><circle cx="349.0" cy="363.16" r="2.45"/><circle cx="356.2" cy="364.53" r="2.45"/><circle cx="364.2" cy="363.33" r="2.45"/><circle cx="370.2" cy="370.17" r="2.45"/><circle cx="377.8" cy="375.56" r="2.45"/><circle cx="386.2" cy="377.09" r="2.45"/><circle cx="391.0" cy="369.40" r="2.45"/><circle cx="397.6" cy="365.30" r="2.45"/><circle cx="402.6" cy="358.46" r="2.45"/><circle cx="408.3" cy="356.32" r="2.45"/><circle cx="416.7" cy="360.43" r="2.45"/><circle cx="423.6" cy="366.15" r="2.45"/><circle cx="431.6" cy="366.92" r="2.45"/><circle cx="436.7" cy="371.37" r="2.45"/><circle cx="441.1" cy="363.16" r="2.45"/><circle cx="447.6" cy="367.95" r="2.45"/><circle cx="450.9" cy="376.92" r="2.45"/><circle cx="453.4" cy="385.90" r="2.45"/><circle cx="459.1" cy="392.91" r="2.45"/><circle cx="466.3" cy="394.87" r="2.45"/><circle cx="469.6" cy="386.24" r="2.45"/><circle cx="472.4" cy="377.26" r="2.45"/><circle cx="475.7" cy="368.46" r="2.45"/><circle cx="480.1" cy="360.94" r="2.45"/><circle cx="487.7" cy="362.56" r="2.45"/><circle cx="494.0" cy="359.83" r="2.45"/><circle cx="500.1" cy="352.99" r="2.45"/><circle cx="505.8" cy="345.98" r="2.45"/><circle cx="511.5" cy="346.75" r="2.45"/><circle cx="516.3" cy="347.61" r="2.45"/><circle cx="519.7" cy="339.15" r="2.45"/><circle cx="521.6" cy="330.00" r="2.45"/><circle cx="522.5" cy="320.68" r="2.45"/><circle cx="523.9" cy="311.37" r="2.45"/><circle cx="524.9" cy="302.05" r="2.45"/><circle cx="526.0" cy="293.25" r="2.45"/><circle cx="527.4" cy="283.93" r="2.45"/><circle cx="528.8" cy="274.53" r="2.45"/><circle cx="530.2" cy="265.56" r="2.45"/><circle cx="531.6" cy="256.15" r="2.45"/><circle cx="533.9" cy="247.18" r="2.45"/><circle cx="537.2" cy="238.38" r="2.45"/><circle cx="539.9" cy="232.74" r="2.45"/><circle cx="547.0" cy="239.74" r="2.45"/><circle cx="554.0" cy="238.63" r="2.45"/><circle cx="557.6" cy="230.09" r="2.45"/><circle cx="560.2" cy="221.54" r="2.45"/><circle cx="562.3" cy="212.74" r="2.45"/><circle cx="565.5" cy="204.10" r="2.45"/><circle cx="569.6" cy="195.56" r="2.45"/><circle cx="572.6" cy="187.26" r="2.45"/><circle cx="575.8" cy="178.21" r="2.45"/><circle cx="578.5" cy="169.40" r="2.45"/><circle cx="581.2" cy="160.60" r="2.45"/><circle cx="583.9" cy="151.62" r="2.45"/><circle cx="586.6" cy="142.31" r="2.45"/><circle cx="590.7" cy="140.00" r="2.45"/><circle cx="594.8" cy="147.86" r="2.45"/><circle cx="596.7" cy="156.67" r="2.45"/><circle cx="598.3" cy="166.41" r="2.45"/><circle cx="600.2" cy="175.21" r="2.45"/><circle cx="603.4" cy="184.44" r="2.45"/><circle cx="608.3" cy="189.57" r="2.45"/><circle cx="615.1" cy="193.25" r="2.45"/><circle cx="623.2" cy="193.25" r="2.45"/><circle cx="630.0" cy="192.56" r="2.45"/><circle cx="632.7" cy="201.11" r="2.45"/><circle cx="634.6" cy="210.34" r="2.45"/><circle cx="637.4" cy="219.66" r="2.45"/><circle cx="640.0" cy="228.80" r="2.45"/><circle cx="642.9" cy="237.18" r="2.45"/><circle cx="645.3" cy="246.24" r="2.45"/><circle cx="647.6" cy="255.21" r="2.45"/><circle cx="650.9" cy="263.85" r="2.45"/><circle cx="654.4" cy="272.48" r="2.45"/><circle cx="658.2" cy="280.94" r="2.45"/><circle cx="662.9" cy="283.50" r="2.45"/><circle cx="671.1" cy="279.49" r="2.45"/><circle cx="679.1" cy="281.28" r="2.45"/><circle cx="681.2" cy="290.34" r="2.45"/><circle cx="683.3" cy="299.40" r="2.45"/><circle cx="686.1" cy="308.03" r="2.45"/><circle cx="689.6" cy="317.01" r="2.45"/></g>
<path d="M71.18,297.57L78.12,299.10M86.13,302.41L92.47,304.85M100.44,304.21L101.60,304.02L106.16,306.98M114.06,306.96L121.04,309.11M129.04,311.11L136.06,313.67M141.50,309.23L146.70,305.30M155.15,301.82L161.55,299.64M169.47,296.76L175.03,295.30M183.00,291.10L190.00,290.44M197.93,287.40L203.47,285.16M210.70,282.84L218.40,282.29M225.24,283.75L228.66,289.07M235.35,285.78L242.45,288.07M250.47,291.67L254.23,294.83M261.79,292.98L266.91,289.07M275.49,287.07L282.51,286.27M290.35,284.68L295.75,281.30M299.90,274.25L303.00,271.11L304.74,274.50M310.66,278.53L317.74,276.51M325.52,271.82L327.00,270.77L330.49,272.40M338.96,271.77L344.14,276.27M352.11,274.54L357.09,272.22M361.67,280.83L365.53,285.15M373.17,291.28L374.50,291.62L377.51,288.50M384.42,286.89L390.78,289.61M399.39,289.23L405.01,290.18M412.17,295.90L417.73,294.44M424.92,298.32L430.48,295.87M436.19,288.29L441.71,287.35M447.86,295.07L449.64,301.60M451.08,309.59L453.12,316.65M455.89,320.47L459.81,316.36M466.84,310.86L472.56,308.80M480.13,302.56L483.77,298.04M491.92,300.47L495.30,301.88L497.68,300.90M505.43,295.35L510.87,291.75M516.07,285.57L518.63,279.13M520.86,270.32L522.44,264.38M524.06,255.44L525.74,249.09M528.20,241.01L534.10,238.13M540.80,233.07L546.60,230.26M554.86,231.28L557.90,233.08L560.24,231.70M564.77,224.71L567.33,218.20M571.37,211.90L574.20,211.20L578.23,213.52M585.70,217.10L592.60,220.42M598.84,224.02L605.66,226.57M612.46,223.67L614.94,230.18M616.88,237.68L618.00,240.43L621.29,236.10M626.88,228.49L631.02,223.98M637.15,220.32L640.95,226.09M647.65,229.92L652.35,224.43M657.67,218.66L660.00,217.35L662.97,220.17M670.32,224.41L676.68,227.13M683.04,232.89L685.00,235.90L686.24,232.64M689.32,224.09L690.78,219.75" stroke="#00665a" stroke-width="4.3" stroke-linecap="round" fill="none"/>
<polyline points="70.9,271.54 77.9,269.49 83.8,268.97 89.8,267.78 95.7,267.26 101.7,263.85 107.7,262.48 113.6,261.28 119.6,259.66 125.5,259.15 131.5,260.94 138.4,258.46 145.4,257.44 151.3,258.29 157.3,259.15 162.3,257.95 168.2,255.04 174.2,255.90 181.1,255.90 186.1,255.38 193.0,252.82 197.9,251.11 204.9,248.29 210.9,246.92 216.8,248.29 223.8,248.63 231.7,250.77 241.6,255.04 247.6,255.90 253.5,256.58 259.5,254.53 266.4,257.09 271.4,257.61 277.4,259.15 283.3,257.44 289.3,257.09 296.2,259.15 302.2,256.24 309.1,253.68 314.1,253.16 321.1,254.53 327.0,253.68 332.9,255.38 338.9,256.24 344.8,257.09 350.8,255.04 356.7,257.95 362.7,258.80 369.6,255.90 376.6,254.19 381.6,253.33 387.5,253.68 393.5,251.62 399.4,252.31 405.4,253.68 411.3,251.97 417.3,254.53 423.3,256.24 429.2,255.90 435.2,253.33 441.1,255.04 447.1,257.61 454.0,261.79 459.9,262.65 466.9,269.49 473.8,272.05 478.8,275.38 484.8,279.66 490.7,280.34 496.7,285.90 502.6,289.66 508.6,293.59 514.5,294.79 521.5,296.15 527.4,295.64 532.4,294.10 538.4,288.97 544.3,286.75 549.3,283.42 555.2,276.58 563.2,266.41 569.1,256.24 575.1,249.40 581.1,240.94 586.7,233.08 600.2,218.03 606.5,205.21 616.3,182.99 629.3,159.32 640.7,145.47 648.8,131.54 660.2,118.46 671.5,114.87 678.0,117.61 684.6,124.62 691.1,130.17" stroke="#000" stroke-width="3.2" stroke-linecap="round"/>
<line x1="97.8" y1="118.29" x2="174.5" y2="118.29" stroke="#000" stroke-width="3.2" stroke-linecap="round"/>
<line x1="97.7" y1="144.10" x2="172" y2="144.10" stroke="#ed7d31" stroke-width="4.9" stroke-linecap="round" stroke-dasharray="0 9.2"/>
<line x1="97.3" y1="169.57" x2="175" y2="169.57" stroke="#00665a" stroke-width="4.1" stroke-linecap="round" stroke-dasharray="8 7.3"/>
</g>
</svg>
</body></html>
